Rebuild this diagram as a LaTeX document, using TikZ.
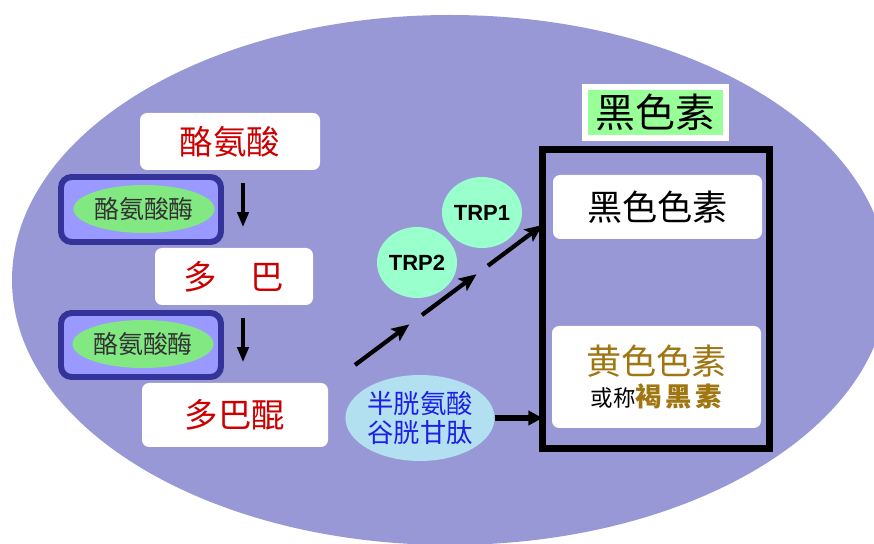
\documentclass[tikz,border=0pt]{standalone}
\usepackage{fontspec}
\setmainfont{Noto Sans CJK SC}
\newfontfamily\trpfont{Liberation Sans}
\usepackage{tikz}
\usetikzlibrary{arrows.meta, calc, shapes.geometric}
\usepackage{xcolor}

\definecolor{bgpurple}{RGB}{152,152,214}
\definecolor{enzfill}{RGB}{153,153,255}
\definecolor{enzline}{RGB}{51,51,153}
\definecolor{enzgreen}{RGB}{130,232,130}
\definecolor{trpmint}{RGB}{153,255,204}
\definecolor{cysblue}{RGB}{178,224,240}
\definecolor{titlegreen}{RGB}{153,255,153}
\definecolor{redtext}{RGB}{204,0,0}
\definecolor{goldtext}{RGB}{160,118,18}
\definecolor{bluetext}{RGB}{30,30,230}

\begin{document}
\begin{tikzpicture}[every node/.style={outer sep=0pt, inner sep=0pt},
    whitebox/.style={fill=white, rounded corners=4pt, minimum width=#1},
    enzbox/.style={fill=enzfill, draw=enzline, line width=3.4pt, rounded corners=6pt, minimum width=3.2cm},
    enzoval/.style={ellipse, fill=enzgreen, minimum width=2.77cm, minimum height=0.96cm, text=black!80, font=\fontsize{14.2}{16}\selectfont},
    trpoval/.style={ellipse, fill=trpmint, minimum width=1.6cm, minimum height=1.42cm, font=\trpfont\bfseries\fontsize{12.5}{14}\selectfont},
    redlabel/.style={text=redtext, font=\fontsize{19}{22}\selectfont},
    downarrow/.style={-{Triangle[length=8.5pt, width=6.5pt]}, line width=1.8pt},
    steparrow/.style={-{Stealth[length=10pt, width=8.5pt, inset=2pt]}, line width=2.4pt}]
    % Background
    \clip (0,0) rectangle (17.48,10.88);
    \fill[bgpurple] (9.0,5.28) ellipse (8.76cm and 5.3cm);

    % Left column
    \node[whitebox=3.6cm, minimum height=1.14cm, redlabel] (tyr) at (4.6,8.05) {酪氨酸};
    \node[enzbox, minimum height=1.3cm] (enzA) at (2.82,6.69) {};
    \node[enzoval] (enzAtext) at (2.88,6.7) {酪氨酸酶};
    \node[whitebox=3.16cm, minimum height=1.14cm, redlabel] (dopa) at (4.68,5.35) {多　巴};
    \node[enzbox, minimum height=1.28cm] (enzB) at (2.82,3.98) {};
    \node[enzoval] (enzBtext) at (2.86,4.0) {酪氨酸酶};
    \node[whitebox=3.72cm, minimum height=1.28cm, redlabel] (dopaq) at (4.7,2.58) {多巴醌};

    \draw[downarrow] ([xshift=0.26cm, yshift=-0.26cm]tyr.south) -- ([xshift=0.26cm, yshift=-1.14cm]tyr.south);
    \draw[downarrow] ([xshift=0.18cm, yshift=-0.26cm]dopa.south) -- ([xshift=0.18cm, yshift=-1.14cm]dopa.south);

    % Middle
    \node[trpoval] (trpB) at (8.34,5.63) {TRP2};
    \node[trpoval] (trpA) at (9.64,6.63) {TRP1};
    \node[ellipse, fill=cysblue, minimum width=2.94cm, minimum height=1.72cm, align=center,
        text=bluetext, font=\fontsize{15}{16.5}\selectfont] (cys) at (8.4,2.52) {半胱氨酸\\谷胱甘肽};

    % Right side
    \node[fill=titlegreen, draw=white, line width=3.4pt, minimum width=2.82cm, minimum height=1.02cm,
        font=\fontsize{22.7}{25}\selectfont] (title) at (13.11,8.63) {黑色素};
    \node[draw=black, line width=4pt, minimum width=4.54cm, minimum height=5.98cm] (melbox) at (13.12,4.9) {};
    \node[whitebox=4.18cm, minimum height=1.28cm, font=\fontsize{20}{22}\selectfont] (eumel) at (13.15,6.74) {黑色色素};
    \node[whitebox=4.18cm, minimum height=2.04cm, align=center] (pheomel) at (13.13,3.34)
        {{\color{goldtext}\fontsize{20}{22}\selectfont 黄色色素}\\[3pt]
         {\fontsize{12.8}{14}\selectfont 或称}{\color{goldtext}\bfseries\fontsize{15}{16}\selectfont 褐\hspace{2pt}黑\hspace{2pt}素}};

    % Arrows to the pigments
    \coordinate (pstart) at (7.1,3.58);
    \coordinate (pend) at (melbox.west |- 0,6.38);
    \draw[steparrow] (pstart) -- ($(pstart)!0.29!(pend)$);
    \draw[steparrow] ($(pstart)!0.357!(pend)$) -- ($(pstart)!0.648!(pend)$);
    \draw[steparrow] ($(pstart)!0.709!(pend)$) -- (pend);
    \draw[-{Triangle[length=8pt, width=8pt]}, line width=3.2pt] (cys.east) -- (cys.east -| melbox.west);

\end{tikzpicture}
\end{document}
